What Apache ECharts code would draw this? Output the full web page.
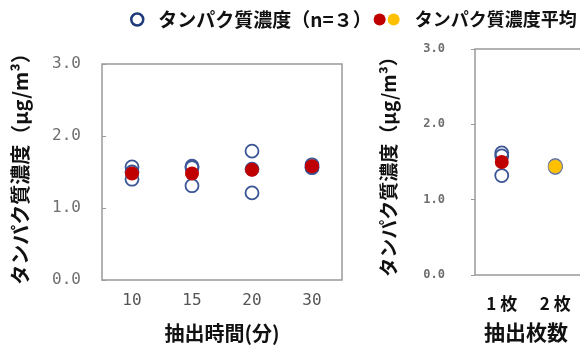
<!DOCTYPE html>
<html>
<head>
<meta charset="utf-8">
<script src="https://cdn.jsdelivr.net/npm/echarts@6/dist/echarts.min.js"></script>
<style>
html, body { margin: 0; padding: 0; background: #fff; }
#main { width: 580px; height: 346px; }
</style>
</head>
<body>
<div id="main"></div>
<script>
// left chart: extraction time
var timeCats = ['10', '15', '20', '30'];
var timeReps = [
    [1.57, 1.50, 1.40],
    [1.58, 1.56, 1.31],
    [1.79, 1.54, 1.21],
    [1.60, 1.57, 1.56]
];
var timeMean = [1.48, 1.48, 1.53, 1.58];

// right chart: number of sheets
var sheetCats = ['1 枚', '2 枚', '3 枚', '4 枚'];
var sheetReps = [
    [1.62, 1.58, 1.32],
    [1.45, 1.44, 1.43]
];
var sheetMeanRed = [1.50];      // 1枚
var sheetMeanYellow = [1.44];   // 2枚

var yTicks = [0, 1, 2, 3];

var repName = 'タンパク質濃度（n=３）';
var meanName = 'タンパク質濃度平均';
var redName = 'mean-red';

function toPoints(reps) {
    var out = [];
    reps.forEach(function (vals, i) {
        vals.forEach(function (v) { out.push([i, v]); });
    });
    return out;
}
function indexed(vals, offset) {
    return vals.map(function (v, i) { return [i + (offset || 0), v]; });
}

var font = '"Noto Sans CJK JP", sans-serif';
var mono = '"DejaVu Sans Mono", monospace';

function yAxisFor(gridIndex, opts) {
    return {
        gridIndex: gridIndex,
        type: 'value',
        min: yTicks[0],
        max: yTicks[yTicks.length - 1],
        interval: 1,
        name: 'タンパク質濃度（μg/m³）',
        nameLocation: 'middle',
        nameRotate: 90,
        nameGap: opts.gap,
        nameTextStyle: { fontFamily: font, fontWeight: 'bold', fontSize: opts.titleSize, color: '#111',
                         padding: opts.namePad },
        axisLine: { show: false },
        axisTick: { show: true, inside: opts.inside, length: 4, lineStyle: { color: '#999' } },
        splitLine: { show: false },
        axisLabel: {
            margin: opts.margin,
            fontFamily: mono,
            fontSize: opts.labelSize,
            fontWeight: opts.labelWeight,
            color: '#6e6e6e',
            formatter: function (v) { return v.toFixed(1); }
        }
    };
}

function xAxisFor(gridIndex, cats, name, opts) {
    return {
        gridIndex: gridIndex,
        type: 'category',
        data: cats,
        name: name,
        nameLocation: 'middle',
        nameGap: opts.gap,
        nameTextStyle: { fontFamily: font, fontWeight: 'bold', fontSize: opts.titleSize, color: '#111',
                         padding: opts.namePad },
        axisLine: { show: false },
        axisTick: { show: false },
        axisLabel: opts.label
    };
}

var openStyle = { color: 'rgba(255,255,255,0)', borderColor: '#3A5694', borderWidth: 1.8, opacity: 1 };
var redStyle = { color: '#C00000', opacity: 1 };
var yellowStyle = { color: '#FFC000', borderColor: '#8a93a8', borderWidth: 0.8, opacity: 1 };

var chart = echarts.init(document.getElementById('main'));
chart.setOption({
    animation: false,
    legend: {
        left: 125,
        top: 5,
        width: 700,
        itemWidth: 12,
        itemHeight: 12,
        itemGap: 2,
        selectedMode: false,
        textStyle: { fontFamily: font, fontWeight: 'bold', fontSize: 19, color: '#111' },
        formatter: function (name) { return name === redName ? '' : name; },
        data: [
            { name: repName, icon: 'circle', itemStyle: { color: '#fff', borderColor: '#1F3A7A', borderWidth: 2.5 },
              textStyle: { padding: [0, 2, 0, 10] } },
            { name: redName, icon: 'circle', itemStyle: { color: '#C00000', borderWidth: 0, opacity: 1 } },
            { name: meanName, icon: 'circle', itemStyle: { color: '#FFC000', borderWidth: 0, opacity: 1 },
              textStyle: { fontSize: 18, padding: [0, 0, 0, 10] } }
        ]
    },
    grid: [
        { left: 102, top: 64, width: 240, height: 216, show: true, borderColor: '#999', borderWidth: 1.5,
          outerBoundsMode: 'none' },
        { left: 475, top: 49, width: 214, height: 226, show: true, borderColor: '#999', borderWidth: 1.5,
          outerBoundsMode: 'none' }
    ],
    xAxis: [
        xAxisFor(0, timeCats, '抽出時間(分)', {
            gap: 43, titleSize: 20, namePad: 0,
            label: { margin: 13, fontFamily: mono, fontSize: 16, color: '#555' }
        }),
        xAxisFor(1, sheetCats, '抽出枚数', {
            gap: 47, titleSize: 21, namePad: [0, 112, 0, 0],
            label: { margin: 20, fontFamily: font, fontSize: 17, fontWeight: 'bold', color: '#111' }
        })
    ],
    yAxis: [
        yAxisFor(0, { gap: 72, titleSize: 20, margin: 21, labelSize: 16, labelWeight: 'normal', inside: true,
                      namePad: [0, 0, 0, 16] }),
        yAxisFor(1, { gap: 77, titleSize: 19, margin: 30, labelSize: 12, labelWeight: 'bold', inside: false,
                      namePad: 0 })
    ],
    series: [
        { name: repName, type: 'scatter', xAxisIndex: 0, yAxisIndex: 0, symbolSize: 13,
          itemStyle: openStyle, data: toPoints(timeReps) },
        { name: repName, type: 'scatter', xAxisIndex: 1, yAxisIndex: 1, symbolSize: 13,
          itemStyle: openStyle, data: toPoints(sheetReps) },
        { name: redName, type: 'scatter', xAxisIndex: 0, yAxisIndex: 0, symbolSize: 14,
          itemStyle: redStyle, data: indexed(timeMean) },
        { name: redName, type: 'scatter', xAxisIndex: 1, yAxisIndex: 1, symbolSize: 14,
          itemStyle: redStyle, data: indexed(sheetMeanRed) },
        { name: meanName, type: 'scatter', xAxisIndex: 1, yAxisIndex: 1, symbolSize: 14,
          itemStyle: yellowStyle, data: indexed(sheetMeanYellow, 1) }
    ]
});
</script>
</body>
</html>
